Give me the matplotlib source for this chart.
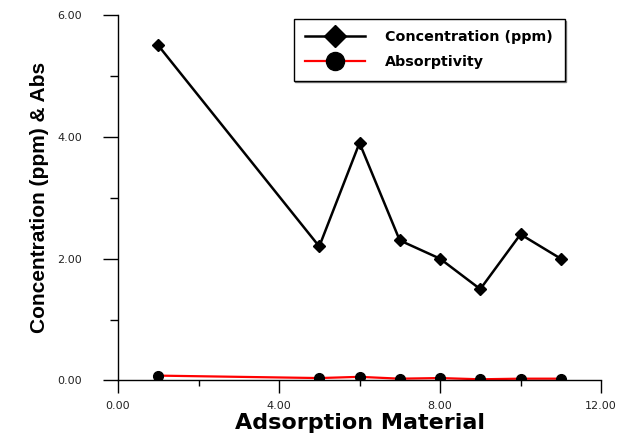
"""Concentration and absorptivity against adsorption material."""

import matplotlib
matplotlib.use("Agg")
import matplotlib.pyplot as plt
from matplotlib.ticker import MultipleLocator, FormatStrFormatter

# ---------------------------------------------------------------------------
# Data
# ---------------------------------------------------------------------------
material = [1, 5, 6, 7, 8, 9, 10, 11]
concentration = [5.5, 2.2, 3.9, 2.3, 2.0, 1.5, 2.4, 2.0]
absorptivity = [0.08, 0.04, 0.06, 0.03, 0.04, 0.02, 0.03, 0.03]

series_labels = ["Concentration (ppm)", "Absorptivity"]
x_label = "Adsorption Material"
y_label = "Concentration (ppm) & Abs"

# ---------------------------------------------------------------------------
# Figure
# ---------------------------------------------------------------------------
fig = plt.figure(figsize=(6.29, 4.36), dpi=100)
ax = fig.add_axes([0.1876, 0.1273, 0.7679, 0.8383])

ax.plot(material, concentration, color="black", lw=1.8, marker="D",
        markersize=6, markerfacecolor="black", markeredgecolor="black",
        label=series_labels[0])
ax.plot(material, absorptivity, color="red", lw=1.6, marker="o",
        markersize=7, markerfacecolor="black", markeredgecolor="black",
        label=series_labels[1])

ax.set_xlim(0, 12)
ax.set_ylim(0, 6)

ax.xaxis.set_major_locator(MultipleLocator(4))
ax.xaxis.set_minor_locator(MultipleLocator(2))
ax.yaxis.set_major_locator(MultipleLocator(2))
ax.yaxis.set_minor_locator(MultipleLocator(1))
ax.xaxis.set_major_formatter(FormatStrFormatter("%.2f"))
ax.yaxis.set_major_formatter(FormatStrFormatter("%.2f"))

for side in ("top", "right"):
    ax.spines[side].set_visible(False)
for side in ("left", "bottom"):
    ax.spines[side].set_linewidth(1.0)
    ax.spines[side].set_color("black")

ax.tick_params(axis="x", which="major", direction="out", length=9, width=1.0,
               pad=6, labelsize=8, labelcolor="#222222")
ax.tick_params(axis="x", which="minor", direction="out", length=4.5, width=1.0)
ax.tick_params(axis="y", which="major", direction="out", length=11, width=1.0,
               pad=15, labelsize=8, labelcolor="#222222")
ax.tick_params(axis="y", which="minor", direction="out", length=5.5, width=1.0)
for lbl in ax.get_xticklabels() + ax.get_yticklabels():
    lbl.set_family("DejaVu Sans")

ax.set_xlabel(x_label, fontsize=16, fontweight="bold", family="DejaVu Sans")
ax.set_ylabel(y_label, fontsize=15, fontweight="bold", family="Liberation Sans")
ax.xaxis.set_label_coords(0.5, -0.088)
ax.yaxis.set_label_coords(-0.143, 0.5)

leg = ax.legend(loc="upper left", bbox_to_anchor=(0.364, 0.989),
                prop={"family": "DejaVu Sans", "weight": "bold", "size": 10.3},
                frameon=True, fancybox=False, edgecolor="black",
                framealpha=1.0, borderpad=0.8, labelspacing=0.75,
                handlelength=4.2, handletextpad=1.4,
                borderaxespad=0.0,
                shadow={"ox": 1.2, "oy": -1.2, "color": "0.5", "alpha": 1.0})
leg.get_frame().set_linewidth(1.0)
# legend markers are drawn larger than the data markers
leg.legend_handles[0].set_markersize(11)
leg.legend_handles[1].set_markersize(13)

fig.savefig("out.png", dpi=100)
